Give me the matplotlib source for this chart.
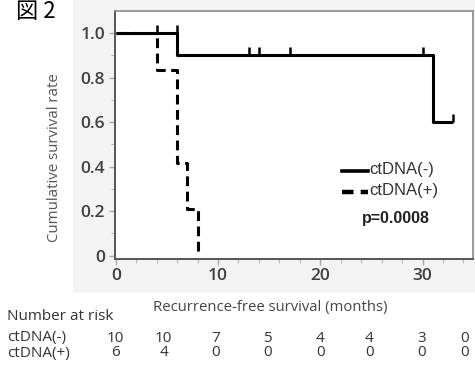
import matplotlib
matplotlib.use("Agg")
import matplotlib.pyplot as plt
import matplotlib.transforms as mtransforms
from matplotlib.patches import Rectangle
from matplotlib.ticker import MultipleLocator

# ---- data ----
neg_times = [0, 6, 31, 33]
neg_surv = [1.0, 0.9, 0.6, 0.6]
neg_cens_t = [6, 13, 14, 17, 30, 33]
neg_cens_s = [1.0, 0.9, 0.9, 0.9, 0.9, 0.6]

pos_times = [0, 4, 6, 7, 8]
pos_surv = [1.0, 0.833, 0.417, 0.208, 0.0]
pos_cens_t = [4]
pos_cens_s = [1.0]

risk_times = [0, 4.7, 9.8, 14.8, 20.0, 24.8, 29.9, 34.1]
risk_neg = [10, 10, 7, 5, 4, 4, 3, 0]
risk_pos = [6, 4, 0, 0, 0, 0, 0, 0]

yticks = [0, 0.2, 0.4, 0.6, 0.8, 1.0]
ytick_labels = ["0", "0.2", "0.4", "0.6", "0.8", "1.0"]
xticks = [0, 10, 20, 30]

W, H = 475, 368
fig = plt.figure(figsize=(W / 100, H / 100), dpi=100)
fig.patch.set_facecolor("white")

# light grey backdrop
fig.patches.append(Rectangle((73 / W, 1 - 293 / H), (W - 73) / W, 293 / H,
                             transform=fig.transFigure, facecolor="#f3f3f3",
                             edgecolor="none", zorder=-5))

ax = fig.add_axes([114.7 / W, 1 - 258.5 / H, (472.7 - 114.7) / W, (258.5 - 11) / H])
ax.set_zorder(2)
ax.set_facecolor("white")
ax.set_xlim(-0.1, 34.9)
ax.set_ylim(-0.013, 1.099)

lw = 2.2
ax.step(neg_times, neg_surv, where="post", color="black", lw=lw, solid_capstyle="butt", zorder=3)
ax.step(pos_times, pos_surv, where="post", color="black", lw=lw, linestyle=(0, (3.2, 1.8)),
        dash_capstyle="butt", zorder=3)
h = 0.036
ax.vlines(neg_cens_t, neg_cens_s, [s + h for s in neg_cens_s], color="black", lw=1.8, zorder=3)
ax.vlines(pos_cens_t, pos_cens_s, [s + h for s in pos_cens_s], color="black", lw=1.8, zorder=3)

for side in ["top", "right"]:
    ax.spines[side].set_color("#8a8a8a")
    ax.spines[side].set_linewidth(1.2)
for side in ["left", "bottom"]:
    ax.spines[side].set_color("#555555")
    ax.spines[side].set_linewidth(1.4)

ax.set_yticks(yticks)
ax.set_yticklabels(ytick_labels)
ax.set_xticks(xticks)
ax.xaxis.set_minor_locator(MultipleLocator(2))
ax.yaxis.set_minor_locator(MultipleLocator(0.1))
ax.tick_params(axis="both", which="major", direction="out", length=4, width=1, color="#aaaaaa",
               labelsize=12.5, labelcolor="#404040")
ax.tick_params(axis="both", which="minor", direction="out", length=3, width=0.8, color="#bbbbbb")
for lab in ax.get_xticklabels() + ax.get_yticklabels():
    lab.set_fontfamily("Open Sans")
    lab.set_fontweight("semibold")
ax.tick_params(axis="y", pad=3)
ax.tick_params(axis="x", pad=3)

fs = 11.0
# y label
fig.text(55 / W, 1 - 158 / H, "Cumulative survival rate", rotation=90, ha="center", va="center",
         fontsize=10.8, color="#555555", family="Open Sans")
# x label
fig.text(270 / W, 1 - 307 / H, "Recurrence-free survival (months)", ha="center", va="center",
         fontsize=10.7, color="#444444", family="Open Sans")

# legend (manual)
lx0, lx1 = 342 / W, 368 / W
fig.lines.append(plt.Line2D([lx0, lx1], [1 - 171 / H] * 2, transform=fig.transFigure,
                            color="black", lw=2.6, zorder=5))
fig.lines.append(plt.Line2D([lx0, lx1], [1 - 192 / H] * 2, transform=fig.transFigure,
                            color="black", lw=3.2, linestyle=(0, (2.6, 1.6)),
                            dash_capstyle="butt", zorder=5))
fig.text(369 / W, 1 - 170 / H, "ctDNA(-)", ha="left", va="center", fontsize=12,
         color="#333333", family="Liberation Sans", zorder=5)
fig.text(369 / W, 1 - 191 / H, "ctDNA(+)", ha="left", va="center", fontsize=12,
         color="#333333", family="Liberation Sans", zorder=5)
fig.text(396 / W, 1 - 219 / H, "p=0.0008", ha="center", va="center", fontsize=11.5,
         color="#222222", family="Liberation Sans", fontweight="bold", zorder=5)

# figure title
fig.text(16 / W, 1 - 18 / H, "図 2", ha="left", va="baseline", fontsize=16,
         family=["Noto Sans CJK JP", "DejaVu Sans"], color="black")

# number at risk table
trans = mtransforms.blended_transform_factory(ax.transData, fig.transFigure)
fig.text(7 / W, 1 - 316 / H, "Number at risk", ha="left", va="center", fontsize=fs,
         color="#333333", family="Open Sans")
fig.text(7 / W, 1 - 338 / H, "ctDNA(-)", ha="left", va="center", fontsize=fs,
         color="#333333", family="Open Sans")
fig.text(7 / W, 1 - 353 / H, "ctDNA(+)", ha="left", va="center", fontsize=fs,
         color="#333333", family="Open Sans")
for t, n in zip(risk_times, risk_neg):
    fig.text(t, 1 - 338 / H, str(n), transform=trans, ha="center", va="center", fontsize=fs,
             color="#333333", family="Open Sans")
for t, n in zip(risk_times, risk_pos):
    fig.text(t, 1 - 353 / H, str(n), transform=trans, ha="center", va="center", fontsize=fs,
             color="#333333", family="Open Sans")

fig.savefig("out.png", dpi=100, facecolor="white")
